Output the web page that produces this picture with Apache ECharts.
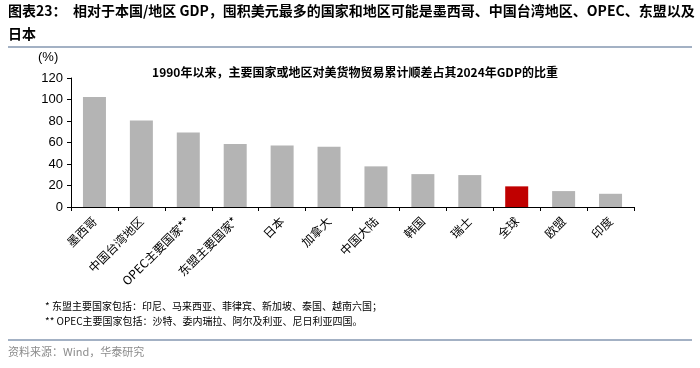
<!DOCTYPE html>
<html><head><meta charset="utf-8">
<script src="https://cdn.jsdelivr.net/npm/echarts@6/dist/echarts.min.js"></script>
<style>html,body{margin:0;padding:0;background:#fff}#c{width:700px;height:368px}</style>
</head><body><div id="c"></div>
<script>
const categories = ['墨西哥','中国台湾地区','OPEC主要国家**','东盟主要国家*','日本','加拿大','中国大陆','韩国','瑞士','全球','欧盟','印度'];
const values = [102.4, 80.5, 69.3, 58.5, 57.3, 56.0, 37.8, 30.6, 29.7, 19.2, 14.8, 12.3];
const highlight = '全球';
const yTicks = [0, 20, 40, 60, 80, 100, 120];

const F = '"Noto Sans CJK SC", "Liberation Sans", sans-serif';
const chart = echarts.init(document.getElementById('c'));
chart.setOption({
  animation: false,
  textStyle: {fontFamily: F},
  grid: {left: 71, right: 66, top: 78, bottom: 161, containLabel: false},
  graphic: [
    {type: 'text', left: 8, top: 4, style: {text: '图表23：  相对于本国/地区 GDP，囤积美元最多的国家和地区可能是墨西哥、中国台湾地区、OPEC、东盟以及', font: 'bold 14px ' + F, fill: '#000'}},
    {type: 'text', left: 8, top: 27, style: {text: '日本', font: 'bold 14px ' + F, fill: '#000'}},
    {type: 'line', shape: {x1: 8, y1: 47, x2: 692, y2: 47}, style: {stroke: '#8497b0', lineWidth: 1.5}},
    {type: 'text', left: 38, top: 51, style: {text: '(%)', font: '13px "Liberation Sans", sans-serif', fill: '#000'}},
    {type: 'text', left: 45, top: 301, style: {text: '* 东盟主要国家包括：印尼、马来西亚、菲律宾、新加坡、泰国、越南六国；', font: '10px ' + F, fill: '#000'}},
    {type: 'text', left: 45, top: 316, style: {text: '** OPEC主要国家包括：沙特、委内瑞拉、阿尔及利亚、尼日利亚四国。', font: '10px ' + F, fill: '#000'}},
    {type: 'line', shape: {x1: 8, y1: 340, x2: 692, y2: 340}, style: {stroke: '#8497b0', lineWidth: 1.5}},
    {type: 'text', left: 8, top: 346, style: {text: '资料来源：Wind，华泰研究', font: '11px ' + F, fill: '#8c8c8c'}}
  ],
  title: {
    text: '1990年以来，主要国家或地区对美货物贸易累计顺差占其2024年GDP的比重',
    left: 350, textAlign: 'center', top: 61,
    textStyle: {fontSize: 12, fontWeight: 'bold', color: '#000', fontFamily: F}
  },
  xAxis: {
    type: 'category', data: categories,
    axisLine: {lineStyle: {color: '#000', width: 1}},
    axisTick: {show: true, alignWithLabel: false, length: 4, lineStyle: {color: '#000'}},
    axisLabel: {rotate: 45, interval: 0, fontSize: 12, color: '#000', margin: 12, fontFamily: F}
  },
  yAxis: {
    type: 'value', min: yTicks[0], max: yTicks[yTicks.length - 1], interval: 20,
    axisLine: {show: true, lineStyle: {color: '#000'}},
    axisTick: {show: true, length: 4, lineStyle: {color: '#000'}},
    splitLine: {show: false},
    axisLabel: {fontSize: 13, color: '#000', margin: 8, fontFamily: '"Liberation Sans", sans-serif'}
  },
  series: [{
    type: 'bar', barWidth: 23,
    data: values.map((v, i) => ({value: v, itemStyle: {color: categories[i] === highlight ? '#c00000' : '#b4b4b4'}}))
  }]
});
</script></body></html>
